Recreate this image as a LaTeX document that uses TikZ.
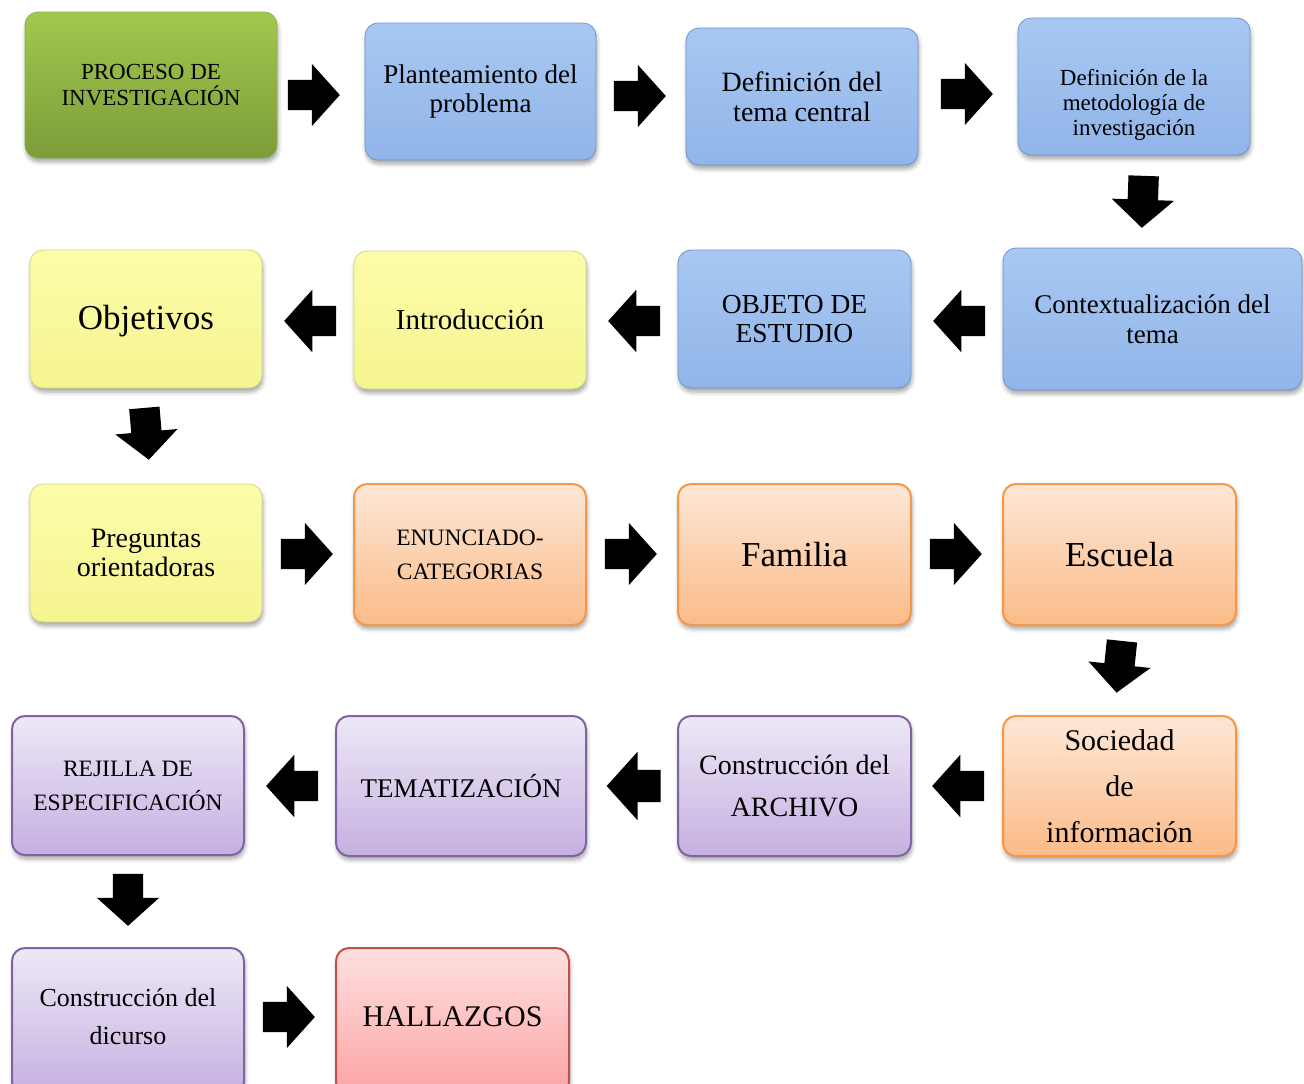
\documentclass[tikz,border=0pt]{standalone}
\usepackage{fontspec}
\setmainfont{Liberation Serif}
\usetikzlibrary{shapes.arrows,shadows,shadows.blur}
\definecolor{gTop}{HTML}{A2C84E}
\definecolor{gBot}{HTML}{7C9C38}
\definecolor{gLine}{HTML}{8DB043}
\definecolor{bTop}{HTML}{A8C8F2}
\definecolor{bBot}{HTML}{91B5E9}
\definecolor{bLine}{HTML}{7095CC}
\definecolor{yTop}{HTML}{FCFCAA}
\definecolor{yBot}{HTML}{F5F590}
\definecolor{yLine}{HTML}{D5D585}
\definecolor{oTop}{HTML}{FDE7D6}
\definecolor{oBot}{HTML}{FBBB88}
\definecolor{oLine}{HTML}{F79646}
\definecolor{pTop}{HTML}{EDE8F6}
\definecolor{pBot}{HTML}{C5B0E1}
\definecolor{pLine}{HTML}{8064A2}
\definecolor{rTop}{HTML}{FEE0E0}
\definecolor{rBot}{HTML}{FCA3A3}
\definecolor{rLine}{HTML}{C0504D}
\tikzset{
  box/.style={rectangle, rounded corners=13pt, inner sep=2pt, align=center,
    blur shadow={shadow xshift=1pt, shadow yshift=-4pt, shadow blur radius=4pt, shadow opacity=35}},
  greenbox/.style={box, top color=gTop, bottom color=gBot, draw=gLine, line width=0.8pt},
  bluebox/.style={box, top color=bTop, bottom color=bBot, draw=bLine, line width=0.8pt},
  yellowbox/.style={box, top color=yTop, bottom color=yBot, draw=yLine, line width=0.8pt},
  orangebox/.style={box, top color=oTop, bottom color=oBot, draw=oLine, line width=2pt},
  purplebox/.style={box, top color=pTop, bottom color=pBot, draw=pLine, line width=2pt},
  redbox/.style={box, top color=rTop, bottom color=rBot, draw=rLine, line width=2pt},
  barrow/.style={single arrow, fill=black, draw=none, inner xsep=0pt, inner ysep=15pt,
    minimum height=52pt, minimum width=62pt, single arrow head extend=16pt,
    single arrow tip angle=96},
  fs/.style n args={2}{font=\fontsize{#1}{#2}\selectfont}
}
\begin{document}
\begin{tikzpicture}[x=1pt,y=-1pt]
\useasboundingbox (0,0) rectangle (1304,1084);
\clip (0,0) rectangle (1304,1084);
% row 1
\node[greenbox, minimum width=252pt, minimum height=146pt, fs={23}{26}] (b1) at (151,85) {PROCESO DE\\INVESTIGACIÓN};
\node[bluebox, minimum width=231pt, minimum height=137pt, fs={27}{29}] (b2) at (480.5,91.5) {Planteamiento del\\problema};
\node[bluebox, minimum width=232pt, minimum height=137pt, fs={28}{30}] (b3) at (802,96.5) {Definición del\\tema central};
\node[bluebox, minimum width=232pt, minimum height=137pt,
  label={[fs={23}{25}, align=center, yshift=-18pt]center:Definición de la\\metodología de\\investigación}] (b4) at (1134,86.5) {};
% row 2
\node[bluebox, minimum width=299pt, minimum height=142pt, fs={27}{30}] (b5) at (1152.5,319) {Contextualización del\\tema};
\node[bluebox, minimum width=233pt, minimum height=138pt, fs={27.5}{29}] (b6) at (794.5,319) {OBJETO DE\\ESTUDIO};
\node[yellowbox, minimum width=232pt, minimum height=138pt, fs={29}{32}] (b7) at (470,320) {Introducción};
\node[yellowbox, minimum width=232pt, minimum height=138pt, fs={35}{38}] (b8) at (146,319) {};
\node[fs={35}{38}] (t8) at (146,321) {Objetivos};
% row 3
\node[yellowbox, minimum width=232pt, minimum height=138pt, fs={28}{29}] (b9) at (146,553) {Preguntas\\orientadoras};
\node[orangebox, minimum width=232pt, minimum height=141pt, fs={23.5}{34}] (b10) at (470,554.5) {ENUNCIADO-\\CATEGORIAS};
\node[orangebox, minimum width=233pt, minimum height=141pt, fs={35}{38}] (b11) at (794.5,554.5) {Familia};
\node[orangebox, minimum width=233pt, minimum height=141pt, fs={35}{38}] (b12) at (1119.5,554.5) {Escuela};
% row 4
\node[orangebox, minimum width=233pt, minimum height=140pt, fs={30}{46}] (b13) at (1119.5,786) {Sociedad\\de\\información};
\node[purplebox, minimum width=233pt, minimum height=140pt, fs={28}{42}] (b14) at (794.5,786) {Construcción del\\ARCHIVO};
\node[purplebox, minimum width=250pt, minimum height=140pt, fs={27}{30}] (b15) at (461,786) {TEMATIZACIÓN};
\node[purplebox, minimum width=232pt, minimum height=139pt, fs={23.5}{34}] (b16) at (128,785.5) {REJILLA DE\\ESPECIFICACIÓN};
% row 5
\node[purplebox, minimum width=232pt, minimum height=147pt,
  label={[fs={26}{38}, align=center, yshift=5pt]center:Construcción del\\dicurso}] (b17) at (128,1021.5) {};
\node[redbox, minimum width=233pt, minimum height=147pt,
  label={[fs={30}{34}, align=center, yshift=5pt]center:HALLAZGOS}] (b18) at (452.5,1021.5) {};
% arrows
\node[barrow] (a1) at (307,95) {};
\node[barrow] (a2) at (633,96) {};
\node[barrow] (a3) at (960,94) {};
\node[barrow, rotate=-92] (a4) at (1143,195) {};
\node[barrow, rotate=180] (a5) at (966,321) {};
\node[barrow, rotate=180] (a6) at (641,321) {};
\node[barrow, rotate=180] (a7) at (317,321) {};
\node[barrow, rotate=-85] (a8) at (146,427) {};
\node[barrow] (a9) at (300,554) {};
\node[barrow] (a10) at (624,554) {};
\node[barrow] (a11) at (949,554) {};
\node[barrow, rotate=-96] (a12) at (1120,660) {};
\node[barrow, rotate=180] (a13) at (965,786) {};
\node[barrow, rotate=180, minimum height=54pt, minimum width=68pt, inner ysep=16pt, single arrow head extend=18pt] (a14) at (641,786) {};
\node[barrow, rotate=180] (a15) at (299,786) {};
\node[barrow, rotate=-90] (a16) at (128,893) {};
\node[barrow] (a17) at (282,1017) {};
\end{tikzpicture}
\end{document}
